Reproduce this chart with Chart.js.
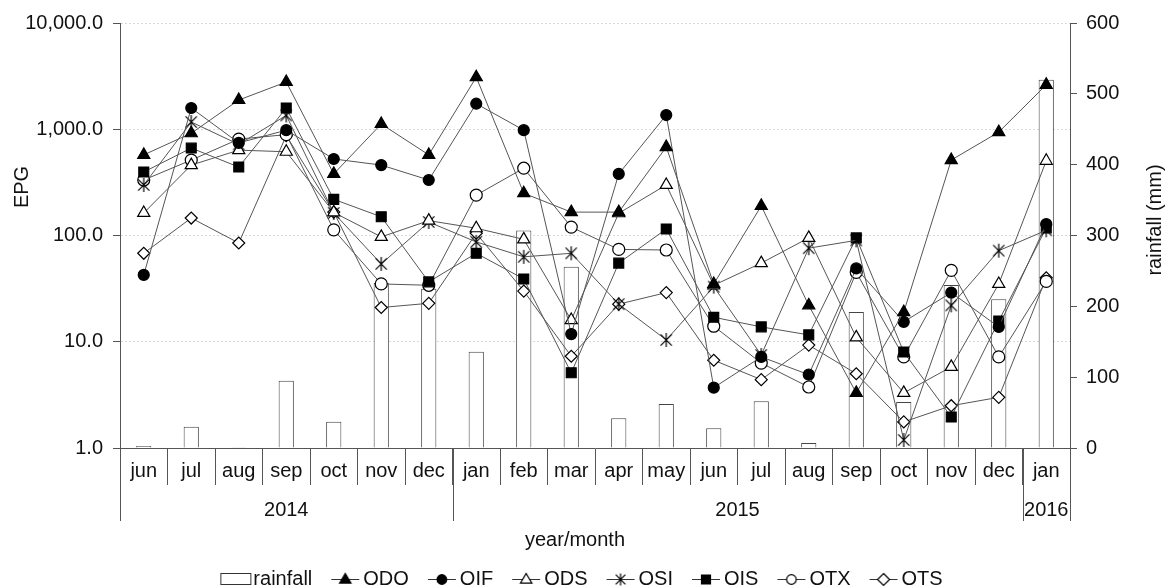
<!DOCTYPE html>
<html>
<head>
<meta charset="utf-8">
<script src="https://cdn.jsdelivr.net/npm/chart.js@4.4.1/dist/chart.umd.min.js"></script>
<style>
  html, body { margin: 0; padding: 0; background: #fff; }
  #wrap { width: 1166px; height: 587px; }
</style>
</head>
<body>
<div id="wrap"><canvas id="myChart"></canvas></div>
<script>
var months = ['jun', 'jul', 'aug', 'sep', 'oct', 'nov', 'dec', 'jan', 'feb', 'mar', 'apr', 'may',
              'jun', 'jul', 'aug', 'sep', 'oct', 'nov', 'dec', 'jan'];
var years = ['2014', '2015', '2016'];
var yearSpans = [7, 12, 1];
var epgTicks = [1, 10, 100, 1000, 10000];

var rainfall = [3, 30, 1, 95, 37, 233, 225, 136, 307, 256, 42, 62, 28, 66, 7, 192, 65, 230, 210, 520];
var ODO = [574, 917, 1884, 2785, 380, 1120, 574, 3090, 250, 166, 166, 680, 35, 190, 22, 3.3, 19, 513, 940, 2620];
var OIF = [42.6, 1585, 744, 980, 525, 460, 333, 1740, 980, 11.8, 380, 1360, 3.7, 7.2, 4.9, 49, 15.4, 29, 13.8, 128];
var ODS = [163, 460, 636, 614, 165, 97, 138, 117, 92, 16, 162, 299, 34, 55, 95, 11, 3.3, 5.8, 35, 505];
var OSI = [299, 1170, 720, 1350, 163, 54, 134, 87, 63, 68, 22.6, 10.4, 33, 7.5, 76, 90, 1.19, 22, 72, 112];
var OIS = [396, 665, 441, 1585, 219, 150, 36.6, 68, 39, 5.1, 55, 115, 17, 13.8, 11.6, 95, 8, 1.96, 15.7, 118];
var OTX = [333, 513, 808, 890, 113, 35, 34, 240, 430, 120, 74, 73, 14, 6.3, 3.75, 45, 7.2, 47, 7.2, 37];
var OTS = [68, 146, 85, 870, 166, 21, 23, 105, 30, 7.3, 22.6, 29, 6.7, 4.4, 9.3, 5.0, 1.76, 2.5, 3.0, 40];

var FONT = '"Liberation Sans", Arial, sans-serif';
var LINE = '#555';
var TEXT = '#111';

// draws one marker shape on a 2d context
function drawMarker(ctx, kind, cx, cy, s) {
    ctx.lineWidth = 1.2;
    ctx.strokeStyle = '#000';
    ctx.beginPath();
    if (kind === 'triangle' || kind === 'triangleOpen') {
        ctx.moveTo(cx, cy - s);
        ctx.lineTo(cx + s * 0.95, cy + s * 0.6);
        ctx.lineTo(cx - s * 0.95, cy + s * 0.6);
        ctx.closePath();
    } else if (kind === 'circle' || kind === 'circleOpen') {
        ctx.arc(cx, cy, s * 0.8, 0, Math.PI * 2);
    } else if (kind === 'rect') {
        ctx.rect(cx - s * 0.75, cy - s * 0.75, s * 1.5, s * 1.5);
    } else if (kind === 'diamond') {
        ctx.moveTo(cx, cy - s);
        ctx.lineTo(cx + s, cy);
        ctx.lineTo(cx, cy + s);
        ctx.lineTo(cx - s, cy);
        ctx.closePath();
    } else if (kind === 'asterisk') {
        ctx.moveTo(cx - s * 0.8, cy - s * 0.8); ctx.lineTo(cx + s * 0.8, cy + s * 0.8);
        ctx.moveTo(cx + s * 0.8, cy - s * 0.8); ctx.lineTo(cx - s * 0.8, cy + s * 0.8);
        ctx.moveTo(cx, cy - s); ctx.lineTo(cx, cy + s);
        ctx.stroke();
        return;
    }
    var open = kind === 'triangleOpen' || kind === 'circleOpen' || kind === 'diamond';
    ctx.fillStyle = open ? '#fff' : '#000';
    ctx.fill();
    ctx.stroke();
}

function asteriskCanvas() {
    var c = document.createElement('canvas');
    c.width = 16; c.height = 16;
    var ctx = c.getContext('2d');
    drawMarker(ctx, 'asterisk', 8, 8, 7);
    return c;
}

// legend symbol: 40px canvas, content drawn in px 7..37 so it sits close to the text
function legendCanvas(kind) {
    var c = document.createElement('canvas');
    c.width = 40; c.height = 16;
    var ctx = c.getContext('2d');
    ctx.strokeStyle = '#333';
    ctx.lineWidth = 1;
    if (kind === 'bar') {
        ctx.strokeRect(7.5, 2.5, 30, 11);
        return c;
    }
    ctx.beginPath(); ctx.moveTo(8, 8.5); ctx.lineTo(36, 8.5); ctx.stroke();
    drawMarker(ctx, kind, 22, 8.5, 6);
    return c;
}

var series = [
    { label: 'ODO', data: ODO, style: 'triangle', radius: 7, fill: '#000', legend: 'triangle' },
    { label: 'OIF', data: OIF, style: 'circle', radius: 5.5, fill: '#000', legend: 'circle' },
    { label: 'ODS', data: ODS, style: 'triangle', radius: 7, fill: '#fff', legend: 'triangleOpen' },
    { label: 'OSI', data: OSI, style: asteriskCanvas(), radius: 6, fill: '#000', legend: 'asterisk' },
    { label: 'OIS', data: OIS, style: 'rect', radius: 7, fill: '#000', legend: 'rect' },
    { label: 'OTX', data: OTX, style: 'circle', radius: 6, fill: '#fff', legend: 'circleOpen' },
    { label: 'OTS', data: OTS, style: 'rectRot', radius: 6, fill: '#fff', legend: 'diamond' }
];

var datasets = [{
    type: 'bar',
    label: 'rainfall',
    data: rainfall,
    yAxisID: 'y1',
    backgroundColor: '#fff',
    borderColor: '#444',
    borderWidth: 1,
    barPercentage: 0.32,
    categoryPercentage: 1,
    order: 2,
    legendStyle: legendCanvas('bar')
}];
series.forEach(function (s) {
    datasets.push({
        type: 'line',
        label: s.label,
        data: s.data,
        yAxisID: 'y',
        borderColor: LINE,
        borderWidth: 1,
        tension: 0,
        pointStyle: s.style,
        pointRadius: s.radius,
        pointBackgroundColor: s.fill,
        pointBorderColor: '#000',
        pointBorderWidth: 1.2,
        order: 1,
        legendStyle: legendCanvas(s.legend)
    });
});

// year row, axis titles
var extras = {
    id: 'extras',
    afterDraw: function (chart) {
        var xs = chart.scales.x;
        var ctx = chart.ctx;
        var w = (xs.right - xs.left) / months.length;
        ctx.save();
        ctx.strokeStyle = LINE;
        ctx.lineWidth = 1;
        ctx.fillStyle = TEXT;
        ctx.font = '20px ' + FONT;
        ctx.textAlign = 'center';
        ctx.textBaseline = 'middle';
        var idx = 0;
        var bounds = [0];
        years.forEach(function (yr, i) {
            var x0 = xs.left + idx * w;
            var x1 = xs.left + (idx + yearSpans[i]) * w;
            ctx.fillText(yr, (x0 + x1) / 2, xs.top + 62);
            idx += yearSpans[i];
            bounds.push(idx);
        });
        bounds.forEach(function (b) {
            var px = Math.round(xs.left + b * w) + 0.5;
            ctx.beginPath();
            ctx.moveTo(px, xs.top);
            ctx.lineTo(px, xs.top + 73);
            ctx.stroke();
        });
        ctx.fillText('year/month', 575, 540);

        ctx.save();
        ctx.translate(22, 187);
        ctx.rotate(-Math.PI / 2);
        ctx.fillText('EPG', 0, 0);
        ctx.restore();

        ctx.save();
        ctx.translate(1155, 220);
        ctx.rotate(-Math.PI / 2);
        ctx.fillText('rainfall (mm)', 0, 0);
        ctx.restore();
        ctx.restore();
    }
};

new Chart('myChart', {
    data: { labels: months, datasets: datasets },
    plugins: [extras],
    options: {
        responsive: true,
        maintainAspectRatio: false,
        animation: false,
        layout: { padding: { top: 23, left: 0, right: 0, bottom: -12 } },
        plugins: {
            tooltip: { enabled: false },
            legend: {
                position: 'bottom',
                labels: {
                    usePointStyle: true,
                    pointStyleWidth: 20,
                    padding: 21,
                    color: TEXT,
                    font: { family: FONT, size: 20 },
                    generateLabels: function (chart) {
                        return chart.data.datasets.map(function (ds, i) {
                            return {
                                text: ds.label,
                                pointStyle: ds.legendStyle,
                                datasetIndex: i,
                                fontColor: TEXT,
                                lineWidth: 0,
                                hidden: false
                            };
                        });
                    }
                }
            }
        },
        scales: {
            x: {
                type: 'category',
                offset: true,
                grid: { display: true, drawOnChartArea: false, offset: true, tickLength: 37, color: LINE },
                border: { display: true, color: LINE },
                ticks: { autoSkip: false, maxRotation: 0, padding: -26, color: TEXT, font: { family: FONT, size: 20 } },
                afterFit: function (s) { s.height = 100; }
            },
            y: {
                type: 'logarithmic',
                position: 'left',
                min: 1,
                max: 10000,
                afterBuildTicks: function (s) {
                    s.ticks = epgTicks.map(function (v) { return { value: v }; });
                },
                grid: { color: '#d9d9d9', tickColor: LINE, tickLength: 7 },
                border: { display: true, color: LINE, dash: [2, 2] },
                ticks: {
                    padding: 10,
                    color: TEXT,
                    font: { family: FONT, size: 20 },
                    callback: function (v) {
                        return Number(v).toLocaleString('en-US', { minimumFractionDigits: 1, maximumFractionDigits: 1 });
                    }
                },
                afterFit: function (s) { s.width = 120; }
            },
            y1: {
                type: 'linear',
                position: 'right',
                min: 0,
                max: 600,
                grid: { drawOnChartArea: false, color: LINE, tickLength: 7 },
                border: { display: true, color: LINE },
                ticks: { stepSize: 100, padding: 9, color: TEXT, font: { family: FONT, size: 20 } },
                afterFit: function (s) { s.width = 96; }
            }
        }
    }
});
</script>
</body>
</html>
